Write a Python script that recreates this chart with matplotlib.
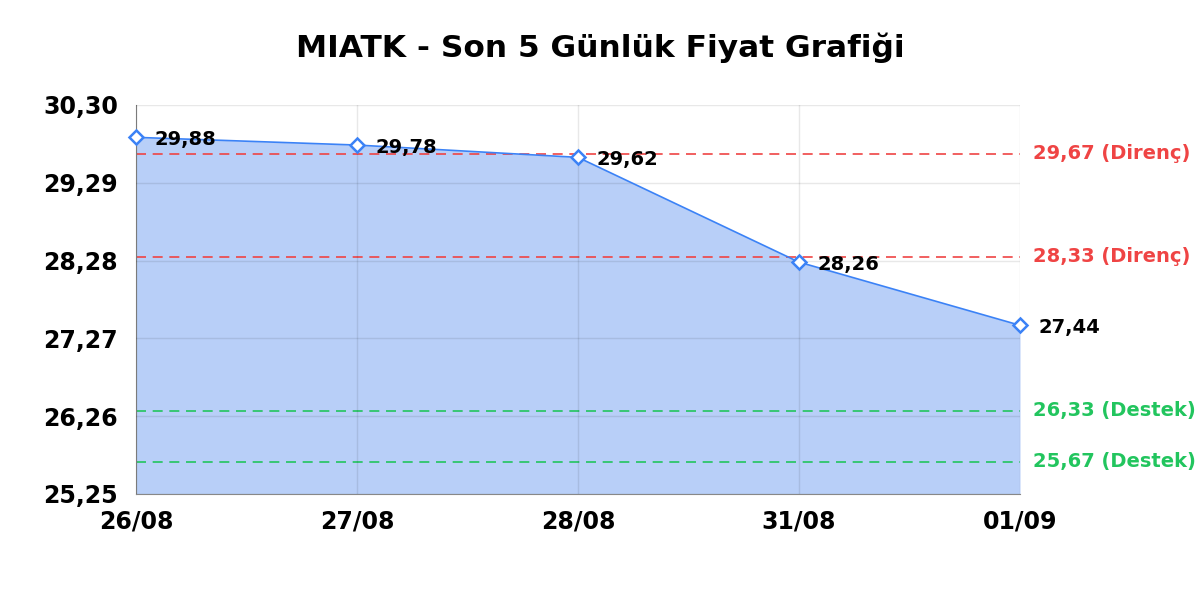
import matplotlib
matplotlib.use("Agg")
import matplotlib.pyplot as plt

dates = ["26/08", "27/08", "28/08", "31/08", "01/09"]
prices = [29.88, 29.78, 29.62, 28.26, 27.44]
resistance = [29.67, 28.33]
support = [26.33, 25.67]
yticks = [25.25, 26.26, 27.27, 28.28, 29.29, 30.30]

def tr(v):
    return f"{v:.2f}".replace(".", ",")

plt.rcParams['font.family'] = ['DejaVu Sans']
fig = plt.figure(figsize=(12, 6), dpi=100)
ax = fig.add_axes([136/1200, 1 - 494/600, (1020-136)/1200, (494-105)/600])

x = list(range(len(dates)))
ax.fill_between(x, prices, yticks[0], color="#b8cff8", lw=0, zorder=1)
ax.plot(x, prices, color="#3b82f6", lw=1.2, zorder=3)
ax.plot(x, prices, ls="none", marker="D", ms=7, mfc="white", mec="#3b82f6", mew=1.8,
        zorder=4, clip_on=False)

for xi, p in zip(x, prices):
    ax.annotate(tr(p), (xi, p), xytext=(13, -1.5), textcoords="offset points",
                fontsize=14, fontweight="bold", va="center", ha="left", zorder=5)

for lv in resistance:
    ax.axhline(lv, color="#ef4444", ls=(0, (6, 4)), lw=1.2, zorder=2)
    ax.annotate(f"{tr(lv)} (Direnç)", (1, lv), xycoords=("axes fraction", "data"),
                xytext=(9.5, 0), textcoords="offset points", color="#ef4444",
                fontsize=14, fontweight="bold", va="center", ha="left")
for lv in support:
    ax.axhline(lv, color="#22c55e", ls=(0, (6, 4)), lw=1.2, zorder=2)
    ax.annotate(f"{tr(lv)} (Destek)", (1, lv), xycoords=("axes fraction", "data"),
                xytext=(9.5, 0), textcoords="offset points", color="#22c55e",
                fontsize=14, fontweight="bold", va="center", ha="left")

ax.set_xlim(0, len(dates) - 1)
ax.set_ylim(yticks[0], yticks[-1])
ax.set_xticks(x)
ax.set_xticklabels(dates, fontsize=17, fontweight="bold")
ax.set_yticks(yticks)
ax.set_yticklabels([tr(v) for v in yticks], fontsize=17, fontweight="bold")
ax.tick_params(axis="y", length=0, pad=13)
ax.tick_params(axis="x", length=0, pad=11)
ax.grid(True, color="black", alpha=0.09, lw=1, zorder=1.5)
ax.set_axisbelow(False)
for s in ["top", "right"]:
    ax.spines[s].set_visible(False)
for s in ["left", "bottom"]:
    ax.spines[s].set_color("#888888")

fig.suptitle("MIATK - Son 5 Günlük Fiyat Grafiği", y=1 - 48/600, va="center",
             fontsize=22.5, fontweight="bold")

fig.savefig("out.png", dpi=100)
